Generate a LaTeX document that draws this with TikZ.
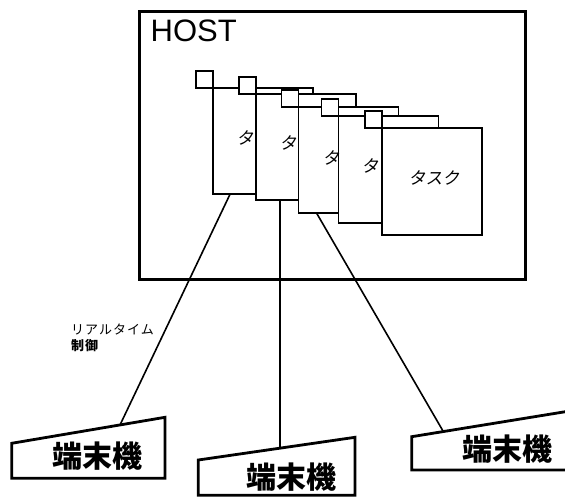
\documentclass[tikz,border=0pt]{standalone}
\usepackage{fontspec}
\setmainfont{Liberation Sans}
\newfontfamily\jp{Noto Sans CJK JP}
\newfontfamily\jpsl[FakeSlant=0.18]{Noto Sans CJK JP}
\newfontfamily\jpsp[LetterSpace=8]{Noto Sans CJK JP}
\begin{document}
\begin{tikzpicture}[x=1pt,y=-1pt,
  cardbox/.style={draw=black,fill=white,line width=1.6pt,minimum width=100pt,minimum height=106pt,inner sep=0pt,outer sep=0pt,anchor=north west},
  tabbox/.style={draw=black,fill=white,line width=1.6pt,minimum width=17pt,minimum height=17pt,inner sep=0pt,outer sep=0pt,anchor=south east},
  tasklbl/.style={font=\jpsl\fontsize{17}{17}\selectfont,inner sep=0pt},
  termlbl/.style={font=\jp\bfseries\fontsize{30}{30}\selectfont,inner sep=0pt},
  term/.style={draw=black,fill=white,line width=2.8pt,line join=miter},
  conn/.style={draw=black,line width=1.6pt}]
\useasboundingbox (0,0) rectangle (565,497);
% HOST
\node[draw=black,line width=3.2pt,minimum width=386pt,minimum height=268pt,inner sep=0pt,anchor=north west] (host) at (138,10) {};
\node[font=\fontsize{31}{31}\selectfont,anchor=base west,inner sep=0pt] (hostlbl) at (150.5,41.5) {HOST};
% cards
\node[cardbox] (c1) at (212.7,88.3) {};
\node[tabbox] (s1) at (c1.north west) {};
\node[cardbox] (c2) at (256,94) {};
\node[tabbox] (s2) at (c2.north west) {};
\node[cardbox] (c3) at (298.3,107.3) {};
\node[tabbox] (s3) at (c3.north west) {};
\node[cardbox,minimum height=107pt] (c4) at (338.3,116) {};
\node[tabbox] (s4) at (c4.north west) {};
\node[cardbox,minimum height=107pt] (c5) at (381.7,128.3) {};
\node[tabbox] (s5) at (c5.north west) {};
\draw[line width=1.6pt] (298.3,88.3) -- (s3.north east);
% card labels
\node[tasklbl] (l1) at (245,138) {タ};
\node[tasklbl] (l2) at (288,142.5) {タ};
\node[tasklbl] (l3) at (331,157.5) {タ};
\node[tasklbl] (l4) at (370,166) {タ};
\node[tasklbl] (l5) at (434,178) {タスク};
% terminals
\draw[term] (11.7,443.3) -- (165,417.3) -- (165,478.3) -- (11.7,478.3) -- cycle;
\draw[term] (198.3,460) -- (355,437.3) -- (355,495.3) -- (198.3,495.3) -- cycle;
\draw[term] (411.7,436.7) -- (585,408.5) -- (585,470) -- (411.7,470) -- cycle;
\node[termlbl] (t1) at (97.5,456) {端末機};
\node[termlbl] (t2) at (291,477.5) {端末機};
\node[termlbl] (t3) at (507.5,449) {端末機};
% connector end points
\coordinate (c1b) at (230,194.3);
\coordinate (c2b) at (280,200);
\coordinate (c3b) at (316.7,213.3);
\coordinate (t1a) at (120,425);
\coordinate (t2a) at (280,448.5);
\coordinate (t3a) at (443.3,431.5);
\draw[conn] (c1b) -- (t1a);
\draw[conn] (c2b) -- (t2a);
\draw[conn] (c3b) -- (t3a);
% label
\node[font=\jpsp\fontsize{13}{13}\selectfont,anchor=west,inner sep=0pt] (rt) at (71,329) {リアルタイム};
\node[font=\jpsp\bfseries\fontsize{13}{13}\selectfont,anchor=west,inner sep=0pt] (sg) at (71,346) {制御};
\end{tikzpicture}
\end{document}
